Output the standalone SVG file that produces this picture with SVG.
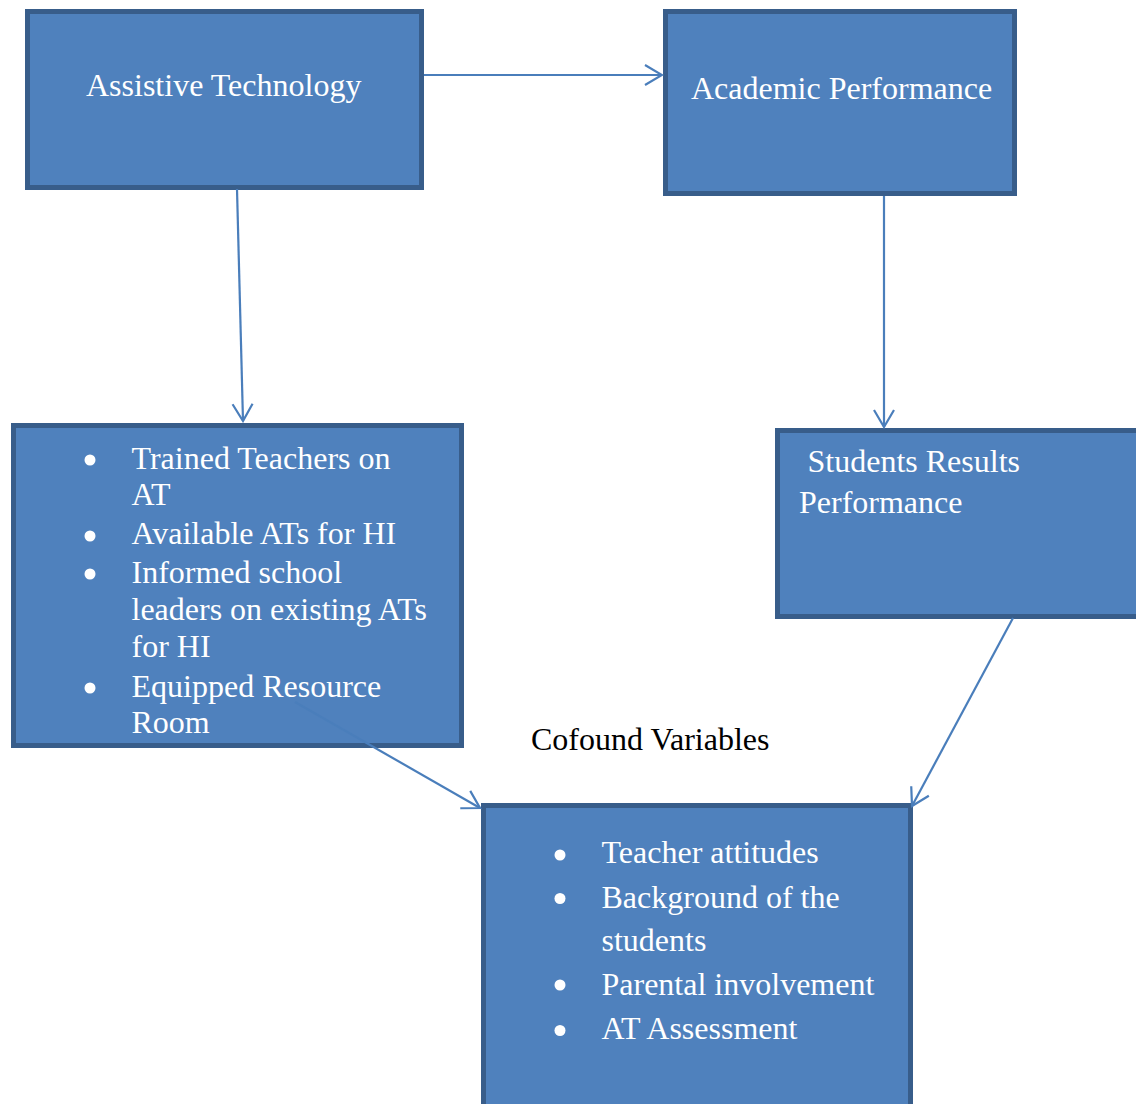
<svg xmlns="http://www.w3.org/2000/svg" width="1136" height="1104" viewBox="0 0 1136 1104">
<style>
.box{fill:#4F81BD;stroke:#385D8A;stroke-width:5}
.t{font-family:"Liberation Serif","Times New Roman",serif;font-size:32px;fill:#FFFFFF}
.lbl{font-family:"Liberation Serif","Times New Roman",serif;font-size:32px;fill:#000000}
.dot{fill:#FFFFFF}
.c{stroke:#4A7EBB;stroke-width:2.2;fill:none;marker-end:url(#arr)}
</style>
<defs>
<marker id="arr" markerUnits="userSpaceOnUse" viewBox="-20 -12 22 24" refX="0" refY="0" markerWidth="22" markerHeight="24" orient="auto">
<path d="M-17,-10 L0,0 L-17,10" fill="none" stroke="#4A7EBB" stroke-width="2.2"/>
</marker>
</defs>
<rect width="1136" height="1104" fill="#FFFFFF"/>
<g id="assistive-technology">
<rect class="box" x="27.5" y="11.5" width="394" height="176"/>
<text class="t" x="86" y="96">Assistive Technology</text>
</g>
<g id="academic-performance">
<rect class="box" x="665.5" y="11.5" width="349" height="182"/>
<text class="t" x="691" y="99">Academic Performance</text>
</g>
<g id="at-factors">
<rect class="box" x="13.5" y="425.5" width="448" height="320"/>
<circle class="dot" cx="90" cy="460" r="5.5"/>
<circle class="dot" cx="90" cy="536" r="5.5"/>
<circle class="dot" cx="90" cy="574" r="5.5"/>
<circle class="dot" cx="90" cy="688" r="5.5"/>
<text class="t" x="131.5" y="469">Trained Teachers on</text>
<text class="t" x="131.5" y="505">AT</text>
<text class="t" x="131.5" y="544">Available ATs for HI</text>
<text class="t" x="131.5" y="583">Informed school</text>
<text class="t" x="131.5" y="620">leaders on existing ATs</text>
<text class="t" x="131.5" y="657">for HI</text>
<text class="t" x="131.5" y="697">Equipped Resource</text>
<text class="t" x="131.5" y="733">Room</text>
</g>
<g id="students-results">
<rect class="box" x="777.5" y="430.5" width="370" height="186"/>
<text class="t" x="807.5" y="472">Students Results</text>
<text class="t" x="799" y="513">Performance</text>
</g>
<g id="confound-variables">
<rect class="box" x="483.5" y="805.5" width="427" height="320"/>
<circle class="dot" cx="560" cy="855" r="5.5"/>
<circle class="dot" cx="560" cy="898.5" r="5.5"/>
<circle class="dot" cx="560" cy="985" r="5.5"/>
<circle class="dot" cx="560" cy="1030.5" r="5.5"/>
<text class="t" x="601.5" y="863">Teacher attitudes</text>
<text class="t" x="601.5" y="907.5">Background of the</text>
<text class="t" x="601.5" y="950.5">students</text>
<text class="t" x="601.5" y="995">Parental involvement</text>
<text class="t" x="601.5" y="1039">AT Assessment</text>
</g>
<text class="lbl" x="531" y="750">Cofound Variables</text>
<g id="connectors">
<line class="c" x1="424" y1="75" x2="662" y2="75"/>
<line class="c" x1="237" y1="189" x2="243" y2="421"/>
<line class="c" x1="884" y1="196" x2="884" y2="427"/>
<line class="c" x1="1013" y1="618" x2="912" y2="806"/>
<line class="c" x1="295" y1="702" x2="480" y2="808"/>
</g>
</svg>
